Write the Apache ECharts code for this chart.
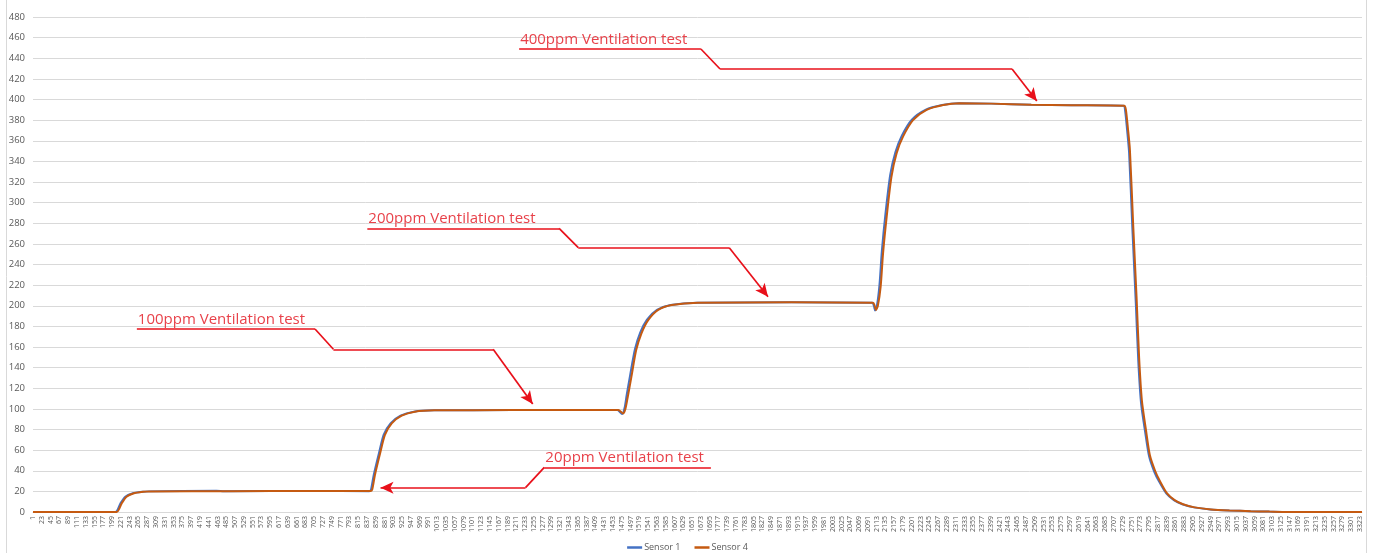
<!DOCTYPE html>
<html>
<head>
<meta charset="utf-8">
<script src="https://cdn.jsdelivr.net/npm/echarts@6/dist/echarts.min.js"></script>
<style>
html,body{margin:0;padding:0;background:#fff;}
#chart{width:1375px;height:553px;}
</style>
</head>
<body>
<div id="chart"></div>
<script>
// ---- data ----
const sampleCount = 3328;
const yTicks = { min: 0, max: 480, step: 20 };
const seriesNames = ['Sensor 1', 'Sensor 4'];

// Sensor 1 (sample number, ppm)
const sensor1Samples = [1,207,220,232,249,274,291,460,480,700,843,847,854,867,879,896,921,954,1004,1200,1464,1470,1476,1482,1487,1496,1508,1521,1538,1563,1597,1663,1900,2102,2106,2109,2114,2120,2126,2135,2147,2160,2176,2201,2235,2277,2318,2400,2500,2600,2731,2735,2740,2745,2753,2762,2768,2775,2785,2795,2808,2820,2838,2857,2878,2907,2948,2995,3048,3095,3170,3328];
const sensor1Values  = [0,0,8.4,14.8,18,19.6,20,20.6,20.2,20.3,20.2,21.5,36,57,75,86,93.4,97.3,98.6,98.8,98.8,97,95,101,113,133,158,174,186.5,196,200.7,203,203.3,203,200,195.5,201,220,253,289,327,349,365,380.5,390,394.7,396.3,396,395,394.5,394,389,370,348,276,200,146,105,78,54,39,29.5,18,11.5,7.5,4.5,2.5,1.5,0.8,0.4,0,0];

// Sensor 4 (sample number, ppm)
const sensor4Samples = [1,210,223,235,252,277,294,500,700,846,850,857,870,882,899,924,957,1007,1200,1466,1472,1478,1484,1490,1499,1511,1524,1541,1566,1600,1666,1900,2104,2108,2111,2116,2123,2129,2138,2150,2163,2179,2204,2238,2280,2321,2400,2500,2600,2733,2737,2742,2747,2755,2764,2770,2777,2787,2797,2810,2822,2840,2859,2880,2909,2950,2997,3050,3097,3172,3328];
const sensor4Values  = [0,0,8.4,14.8,18,19.6,20,20.2,20.3,20.3,21.5,35.9,56.9,74.7,86,93.4,97.3,98.6,98.8,98.8,97.5,95.5,100,111.8,131,157,173,186,196,200.7,203,203.3,203,200,196,200,218.5,250.8,286,325,348,364,380,390,394.7,396.3,396,395,394.5,394,390,372,351,280,205,150,108,80,55,40,30,18,11.5,7.5,4.5,2.5,1.5,0.8,0.4,0,0];

// annotations: text and polyline path in (sample, ppm)
const annotationTexts = ['400ppm Ventilation test', '200ppm Ventilation test', '100ppm Ventilation test', '20ppm Ventilation test'];
const annotationPaths = [
  [[1218,449],[1673,449],[1721,429.6],[2452,429.6],[2514,398.5]],
  [[838,275.1],[1318,275.1],[1366,256.3],[1744,256.3],[1841,208.8]],
  [[261,177.5],[707,177.5],[753,157.8],[1153,157.8],[1252,104.7]],
  [[1698,43.3],[1281,43.3],[1234,23.6],[871,23.6]]
];
// ---- end data ----

const categories = [];
for (let i = 1; i <= sampleCount; i++) categories.push(String(i));

function zip(xs, ys) { return xs.map((x, i) => [String(x), ys[i]]); }

const RED = '#E8101A';
const segStyle = { color: RED, width: 1.7, type: 'solid', opacity: 1 };
const markData = [];
annotationPaths.forEach((path, a) => {
  const n = path.length;
  for (let i = 0; i < n - 1; i++) {
    const isLast = i === n - 2;
    const from = { coord: [String(path[i][0]), path[i][1]], symbol: 'none', lineStyle: segStyle };
    const to = { coord: [String(path[i + 1][0]), path[i + 1][1]], symbol: isLast ? 'arrow' : 'none', symbolSize: [9, 13], lineStyle: segStyle, itemStyle: { color: RED } };
    if (i === 0) {
      const lbl = {
        show: true,
        position: a === 3 ? 'insideEndTop' : 'insideStartTop',
        formatter: annotationTexts[a],
        color: '#E8424A',
        fontSize: 15,
        fontFamily: 'Open Sans',
        distance: [1, 2]
      };
      from.label = lbl;
      to.label = lbl;
    } else {
      from.label = { show: false };
      to.label = { show: false };
    }
    markData.push([from, to]);
  }
});

const chart = echarts.init(document.getElementById('chart'), null, { renderer: 'canvas' });
const option = {
  animation: false,
  backgroundColor: '#fff',
  textStyle: { fontFamily: 'Open Sans' },
  grid: { left: 33, right: 13, top: 17, bottom: 41 },
  legend: {
    data: seriesNames,
    top: 538,
    left: 'center',
    icon: 'rect',
    itemWidth: 15,
    itemHeight: 2.5,
    itemGap: 14,
    textStyle: { color: '#595959', fontSize: 9, fontFamily: 'Open Sans', padding: [0, 0, 0, -3] }
  },
  xAxis: {
    type: 'category',
    data: categories,
    boundaryGap: false,
    axisLine: { show: true, lineStyle: { color: '#D9D9D9', width: 1 } },
    axisTick: { show: false },
    axisLabel: {
      interval: 21,
      rotate: 90,
      fontSize: 7,
      color: '#595959',
      margin: 4,
      fontFamily: 'Open Sans'
    },
    splitLine: { show: false }
  },
  yAxis: {
    type: 'value',
    min: yTicks.min,
    max: yTicks.max,
    interval: yTicks.step,
    axisLine: { show: false },
    axisTick: { show: false },
    axisLabel: { fontSize: 9.5, color: '#595959', margin: 8, fontFamily: 'Open Sans' },
    splitLine: { show: true, lineStyle: { color: '#D9D9D9', width: 1 } }
  },
  graphic: [
    { type: 'line', shape: { x1: 6.5, y1: 0, x2: 6.5, y2: 553 }, style: { stroke: '#D9D9D9', lineWidth: 1 }, silent: true },
    { type: 'line', shape: { x1: 1366.5, y1: 0, x2: 1366.5, y2: 553 }, style: { stroke: '#D9D9D9', lineWidth: 1 }, silent: true }
  ],
  series: [
    {
      name: seriesNames[0],
      type: 'line',
      data: zip(sensor1Samples, sensor1Values),
      showSymbol: false,
      symbol: 'none',
      smooth: 0.25,
      lineStyle: { color: '#4472C4', width: 2 },
      itemStyle: { color: '#4472C4' },
      z: 2
    },
    {
      name: seriesNames[1],
      type: 'line',
      data: zip(sensor4Samples, sensor4Values),
      showSymbol: false,
      symbol: 'none',
      smooth: 0.25,
      lineStyle: { color: '#C55A11', width: 2 },
      itemStyle: { color: '#C55A11' },
      z: 3,
      markLine: {
        silent: true,
        animation: false,
        symbol: ['none', 'none'],
        lineStyle: segStyle,
        itemStyle: { color: RED },
        label: { show: false },
        emphasis: { disabled: true },
        data: markData
      }
    }
  ]
};
chart.setOption(option);
</script>
</body>
</html>
